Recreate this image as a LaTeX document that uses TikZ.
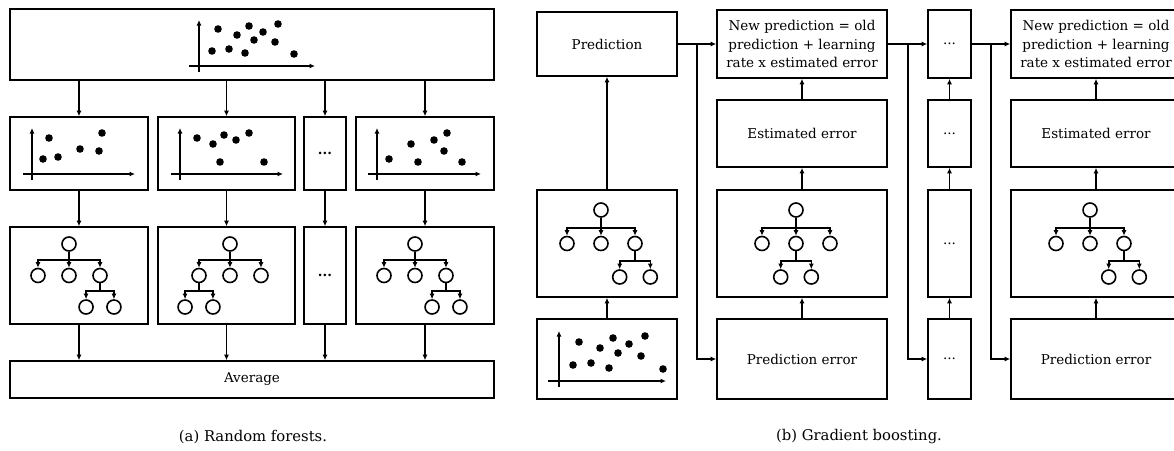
\documentclass[tikz,border=0pt]{standalone}
\usepackage{fontspec}
\setmainfont{DejaVu Serif}
\usetikzlibrary{arrows.meta,calc}

% tree: prefix, root x, root y, child with sub-children, horizontal step, vertical step
\newcommand\drawtree[6]{%
  \node[leaf] (#1r) at (#2,#3) {};
  \node[leaf] (#1c1) at (#2-#5,#3+#6) {};
  \node[leaf] (#1c2) at (#2,#3+#6) {};
  \node[leaf] (#1c3) at (#2+#5,#3+#6) {};
  \path (#1c#4) ++(-0.45*#5,#6) node[leaf] (#1g1) {};
  \path (#1c#4) ++(0.45*#5,#6) node[leaf] (#1g2) {};
  \foreach \c in {c1,c2,c3}
    \draw[arr] (#1r.south) |- ([yshift=8pt]#1\c.north) -- (#1\c.north);
  \foreach \g in {g1,g2}
    \draw[arr] (#1c#4.south) |- ([yshift=8pt]#1\g.north) -- (#1\g.north);
}

\begin{document}
\begin{tikzpicture}[x=1pt,y=-1pt,
  box/.style={draw, line width=1.6pt, inner sep=0pt, align=center,
    font=\fontsize{13.5}{18.5}\selectfont},
  leaf/.style={draw, circle, line width=1.6pt, minimum size=14pt, inner sep=0pt},
  arr/.style={line width=1.6pt, -{Latex[length=5.5pt,width=5pt]}},
  axis/.style={line width=1.6pt, -{Latex[length=5.5pt,width=5pt]}},
  caption/.style={font=\fontsize{14.8}{17}\selectfont}]

\useasboundingbox (0,0) rectangle (1174,450);
\clip (0,0) rectangle (1174,450);

%%% (a) Random forests
\node[box, minimum width=484pt, minimum height=71pt] (top) at (252,44.5) {};
\draw[axis] (199,72) -- (199,20);
\draw[axis] (189,66) -- (315,66);
\foreach \p in {(212,51),(218,29),(229,49),(237,35),(245,53),(249,26),(254,40),(263,32),(275,42),(278,24),(294,54)}
  \fill \p circle[radius=3.8pt];

% bootstrap samples
\node[box, minimum width=138pt, minimum height=73pt] (sa) at (79,153.5) {};
\node[box, minimum width=137pt, minimum height=73pt] (sb) at (226.5,153.5) {};
\node[box, minimum width=42pt, minimum height=73pt] (sc) at (325,153.5) {\textbf{...}};
\node[box, minimum width=138pt, minimum height=73pt] (sd) at (425,153.5) {};

\draw[axis] (32,180) -- (32,128);
\draw[axis] (23,174) -- (135,174);
\foreach \p in {(43,159),(49,138),(58,157),(80,149),(99,151),(102,133)}
  \fill \p circle[radius=3.8pt];
\draw[axis] (180,180) -- (180,128);
\draw[axis] (171,174) -- (283,174);
\foreach \p in {(197,138),(213,144),(220,162),(224,135),(236,140),(249,133),(264,162)}
  \fill \p circle[radius=3.8pt];
\draw[axis] (377,180) -- (377,128);
\draw[axis] (368,174) -- (481,174);
\foreach \p in {(389,159),(411,144),(418,162),(434,140),(444,151),(447,133),(462,162)}
  \fill \p circle[radius=3.8pt];

% trees
\node[box, minimum width=138pt, minimum height=97pt] (ta) at (79,275.5) {};
\node[box, minimum width=137pt, minimum height=97pt] (tb) at (226.5,275.5) {};
\node[box, minimum width=42pt, minimum height=97pt] (tc) at (325,275.5) {\textbf{...}};
\node[box, minimum width=138pt, minimum height=97pt] (td) at (425,275.5) {};
\drawtree{ra}{69}{244}{3}{31}{31.5}
\drawtree{rb}{230}{244}{1}{31}{31.5}
\drawtree{rd}{415}{244}{3}{31}{31.5}

\node[box, minimum width=484pt, minimum height=37pt] (avg) at (252,379.5) {Average};

\foreach \n in {sa,sb,sc,sd}
  \draw[arr] (top.south -| \n) -- (\n.north);
\foreach \s/\t in {sa/ta,sb/tb,sc/tc,sd/td}
  \draw[arr] (\s.south) -- (\t.north);
\foreach \t in {ta,tb,tc,td}
  \draw[arr] (\t.south) -- (avg.north -| \t);

\node[caption] (capa) at (253,437) {(a) Random forests.};

%%% (b) Gradient boosting
\node[box, minimum width=140pt, minimum height=64pt] (pred) at (607,44) {Prediction};
\node[box, minimum width=140pt, minimum height=107pt] (tree1) at (607,243.5) {};
\node[box, minimum width=140pt, minimum height=80pt] (data) at (607,359) {};
\draw[axis] (559,387) -- (559,331);
\draw[axis] (548,381) -- (666,381);
\foreach \p in {(573,365),(579,342),(591,363),(600,348),(609,368),(613,338),(618,353),(629,344),(641,356),(645,336),(663,369)}
  \fill \p circle[radius=3.8pt];
\drawtree{ga}{601}{210}{3}{34}{33.5}

% first boosting stage
\node[box, minimum width=170pt, minimum height=68pt] (new1) at (802,44)
  {New prediction = old\\prediction + learning\\rate x estimated error};
\node[box, minimum width=170pt, minimum height=67pt] (est1) at (802,133.5) {Estimated error};
\node[box, minimum width=170pt, minimum height=107pt] (tree2) at (802,243.5) {};
\node[box, minimum width=170pt, minimum height=80pt] (err1) at (802,359) {Prediction error};
\drawtree{gb}{796}{210}{2}{34}{33.5}

% intermediate stages
\node[box, minimum width=43pt, minimum height=68pt] (new2) at (949.5,44) {...};
\node[box, minimum width=43pt, minimum height=67pt] (est2) at (949.5,133.5) {...};
\node[box, minimum width=43pt, minimum height=107pt] (tree3) at (949.5,243.5) {...};
\node[box, minimum width=43pt, minimum height=80pt] (err2) at (949.5,359) {...};

% last stage
\node[box, minimum width=170pt, minimum height=68pt] (new3) at (1096,44)
  {New prediction = old\\prediction + learning\\rate x estimated error};
\node[box, minimum width=170pt, minimum height=67pt] (est3) at (1096,133.5) {Estimated error};
\node[box, minimum width=170pt, minimum height=107pt] (tree4) at (1096,243.5) {};
\node[box, minimum width=170pt, minimum height=80pt] (err3) at (1096,359) {Prediction error};
\drawtree{gc}{1090}{210}{3}{34}{33.5}

\draw[arr] (data.north) -- (tree1.south);
\draw[arr] (tree1.north) -- (pred.south);
\foreach \a/\b/\c/\d in {err1/tree2/est1/new1,err2/tree3/est2/new2,err3/tree4/est3/new3}{
  \draw[arr] (\a.north) -- (\b.south);
  \draw[arr] (\b.north) -- (\c.south);
  \draw[arr] (\c.north) -- (\d.south);
}

\coordinate (j1) at (697,44);
\coordinate (j2) at (908,44);
\coordinate (j3) at (991,44);
\draw[arr] (pred.east) -- (new1.west);
\draw[arr] (j1) |- (err1.west);
\draw[arr] (new1.east) -- (new2.west);
\draw[arr] (j2) |- (err2.west);
\draw[arr] (new2.east) -- (new3.west);
\draw[arr] (j3) |- (err3.west);

\node[caption] (capb) at (859,437) {(b) Gradient boosting.};
\end{tikzpicture}
\end{document}
